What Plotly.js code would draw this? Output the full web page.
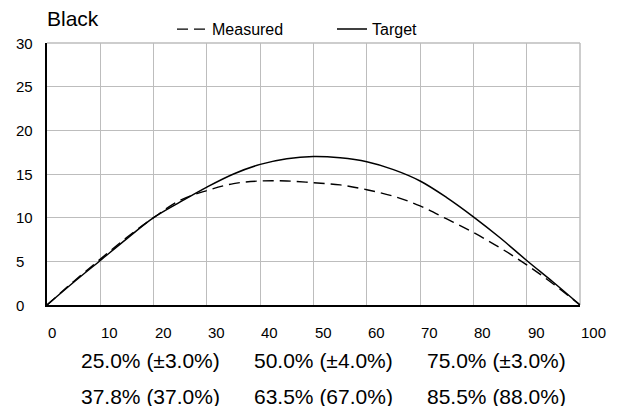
<!DOCTYPE html>
<html>
<head>
<meta charset="utf-8">
<script src="https://cdn.plot.ly/plotly-3.0.1.min.js"></script>
<style>html,body{margin:0;padding:0;background:#fff}#chart{width:623px;height:406px}</style>
</head>
<body>
<div id="chart"></div>
<script>
var xVals = [0,5,10,15,20,25,30,35,40,45,50,55,60,65,70,75,80,85,90,95,100];
var target = [0,2.6,5.1,7.6,10.0,11.8,13.5,15.0,16.1,16.75,17.0,16.85,16.4,15.5,14.2,12.3,10.1,7.7,5.1,2.6,0];
var measured = [0,2.7,5.25,7.75,10.0,12.0,13.1,13.9,14.2,14.2,14.0,13.75,13.2,12.45,11.35,9.85,8.3,6.55,4.6,2.4,0];
var xTicks = [0,10,20,30,40,50,60,70,80,90,100];
var yTicks = [0,5,10,15,20,25,30];
var row1Labels = ["25.0% (±3.0%)","50.0% (±4.0%)","75.0% (±3.0%)"];
var row2Labels = ["37.8% (37.0%)","63.5% (67.0%)","85.5% (88.0%)"];
var chartTitle = "Black";

var FONT = "Liberation Sans, Arial, sans-serif";
var ML = 47, MR = 43, MT = 39, MB = 101, W = 623, H = 406;
var PW = W - ML - MR, PH = H - MT - MB;
var GRID = "#bdbdbd";

var traces = [
  {x: xVals, y: measured, name: "Measured", mode: "lines", type: "scatter",
   line: {color: "#000", width: 1.4, dash: "11px,6px", shape: "spline", smoothing: 1}},
  {x: xVals, y: target, name: "Target", mode: "lines", type: "scatter",
   line: {color: "#000", width: 1.5, shape: "spline", smoothing: 1}}
];

var ann = [];
xTicks.forEach(function(v){
  ann.push({x: v, xref: "x", y: 0, yref: "paper", text: String(v), showarrow: false,
    xanchor: "left", yanchor: "middle", yshift: -27, xshift: -1,
    font: {family: FONT, size: 15, color: "#000"}});
});
yTicks.forEach(function(v){
  ann.push({x: -(ML - 14) / PW, xref: "paper", y: v, yref: "y", text: String(v), showarrow: false,
    xanchor: "left", yanchor: "middle",
    font: {family: FONT, size: 15, color: "#000"}});
});
var centers = [150, 323, 496];
row1Labels.forEach(function(t, i){
  ann.push({x: (centers[i] - ML) / PW, xref: "paper", y: 0, yref: "paper", yshift: -55,
    text: t, showarrow: false, xanchor: "center", yanchor: "middle",
    font: {family: FONT, size: 21, color: "#000"}});
});
row2Labels.forEach(function(t, i){
  ann.push({x: (centers[i] - ML) / PW, xref: "paper", y: 0, yref: "paper", yshift: -91,
    text: t, showarrow: false, xanchor: "center", yanchor: "middle",
    font: {family: FONT, size: 21, color: "#000"}});
});

var layout = {
  width: W, height: H,
  margin: {l: ML, r: MR, t: MT, b: MB, pad: 0},
  paper_bgcolor: "#fff", plot_bgcolor: "#fff",
  font: {family: FONT, size: 15, color: "#000"},
  title: {text: chartTitle, x: 0, xref: "paper", xanchor: "left",
          y: 1 - 19 / H, yref: "container", yanchor: "middle",
          font: {family: FONT, size: 21, color: "#000"}},
  showlegend: true,
  legend: {orientation: "h", x: (172 - ML) / PW, xanchor: "left", y: 1 + 14 / PH, yanchor: "middle",
           font: {family: FONT, size: 16, color: "#000"}, bgcolor: "rgba(0,0,0,0)",
           entrywidth: 115, entrywidthmode: "pixels", traceorder: "normal"},
  xaxis: {range: [0, 100], tickvals: xTicks, showticklabels: false, ticks: "",
          showgrid: true, gridcolor: GRID, gridwidth: 1, zeroline: false,
          showline: true, linecolor: "#000", linewidth: 2.2, fixedrange: true},
  yaxis: {range: [0, 30], tickvals: yTicks, showticklabels: false, ticks: "",
          showgrid: true, gridcolor: GRID, gridwidth: 1, zeroline: false,
          showline: true, linecolor: "#000", linewidth: 2.2, fixedrange: true},
  shapes: [
    {type: "line", xref: "paper", yref: "paper", x0: 0, x1: 1, y0: 1, y1: 1, layer: "below",
     line: {color: GRID, width: 1.5}},
    {type: "line", xref: "paper", yref: "paper", x0: 1, x1: 1, y0: 0, y1: 1, layer: "below",
     line: {color: GRID, width: 1.5}}
  ],
  annotations: ann,
  hovermode: false
};

Plotly.newPlot("chart", traces, layout, {displayModeBar: false, staticPlot: true});
</script>
</body>
</html>
